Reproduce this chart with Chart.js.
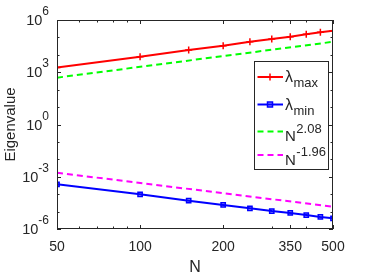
<!DOCTYPE html>
<html>
<head>
<meta charset="utf-8">
<script src="https://cdn.jsdelivr.net/npm/chart.js@4"></script>
<style>
  html, body { margin: 0; padding: 0; background: #fff; }
  #wrap { width: 368px; height: 276px; position: relative; }
</style>
</head>
<body>
<div id="wrap"><canvas id="myChart"></canvas></div>
<script>
// values
const N = [50, 100, 150, 200, 250, 300, 350, 400, 450, 500];
const lambdaMax = [1900, 7800, 19000, 33000, 56000, 81000, 110000, 150000, 195000, 240000];
const lambdaMin = [3.7e-4, 9.8e-5, 4.2e-5, 2.4e-5, 1.55e-5, 1.07e-5, 8.3e-6, 6.3e-6, 4.9e-6, 4.1e-6];
const fitN = [50, 500];
const fitMax = [490, 56000];   // N^2.08
const fitMin = [1.7e-3, 1.9e-5]; // N^-1.96

const xTickLabels = [50, 100, 200, 350, 500];
const xMinorTicks = [60, 70, 80, 90, 300, 400];
const yTickExps = [-6, -3, 0, 3, 6];
const yMinorExps = [-5, -4, -2, -1, 1, 2, 4, 5];

const FONT = "'Liberation Sans', Arial, Helvetica, sans-serif";
const AXIS = "#262626";

const pts = (xs, ys) => xs.map((x, i) => ({ x: x, y: ys[i] }));

// legend: [base, script, isSub, color, dashed, marker]
const legendItems = [
    ["\u03bb", "max", true, "#ff0000", false, "cross"],
    ["\u03bb", "min", true, "#0000ff", false, "rect"],
    ["N", "2.08", false, "#00ff00", true, null],
    ["N", "-1.96", false, "#ff00ff", true, null]
];

function drawMarker(ctx, kind, x, y, color) {
    ctx.save();
    ctx.strokeStyle = color;
    ctx.lineWidth = 1.5;
    if (kind === "cross") {
        ctx.beginPath();
        ctx.moveTo(x - 3.5, y); ctx.lineTo(x + 3.5, y);
        ctx.moveTo(x, y - 3.5); ctx.lineTo(x, y + 3.5);
        ctx.stroke();
    } else if (kind === "rect") {
        ctx.fillStyle = "rgba(0,0,255,0.35)";
        ctx.fillRect(x - 2.5, y - 2.5, 5, 5);
        ctx.strokeRect(x - 2.5, y - 2.5, 5, 5);
    }
    ctx.restore();
}

const matlabAxes = {
    id: "matlabAxes",
    afterDatasetsDraw(chart) {
        const ctx = chart.ctx;
        const a = chart.chartArea;
        const xs = chart.scales.x, ys = chart.scales.y;
        ctx.save();
        ctx.strokeStyle = AXIS;
        ctx.lineWidth = 1;
        ctx.strokeRect(a.left + 0.5, a.top + 0.5, a.right - a.left - 1, a.bottom - a.top - 1);

        // x ticks (inward, bottom and top)
        ctx.beginPath();
        xTickLabels.concat(xMinorTicks).forEach(v => {
            const len = xTickLabels.includes(v) ? 4 : 2.5;
            const px = Math.round(xs.getPixelForValue(v)) + 0.5;
            ctx.moveTo(px, a.bottom); ctx.lineTo(px, a.bottom - len);
            ctx.moveTo(px, a.top); ctx.lineTo(px, a.top + len);
        });
        // y ticks (inward, left and right)
        yTickExps.concat(yMinorExps).forEach(e => {
            const len = yTickExps.includes(e) ? 4 : 2.5;
            const py = Math.round(ys.getPixelForValue(Math.pow(10, e))) + 0.5;
            ctx.moveTo(a.left, py); ctx.lineTo(a.left + len, py);
            ctx.moveTo(a.right, py); ctx.lineTo(a.right - len, py);
        });
        ctx.stroke();

        ctx.fillStyle = AXIS;
        // x tick labels
        ctx.font = "14px " + FONT;
        ctx.textAlign = "center";
        ctx.textBaseline = "alphabetic";
        xTickLabels.forEach(v => {
            ctx.fillText(String(v), xs.getPixelForValue(v), a.bottom + 22);
        });
        // y tick labels 10^e
        yTickExps.forEach(e => {
            const py = ys.getPixelForValue(Math.pow(10, e));
            const exp = String(e);
            ctx.font = "12px " + FONT;
            const we = ctx.measureText(exp).width;
            ctx.font = "14.5px " + FONT;
            const wb = ctx.measureText("10").width;
            const right = a.left - 8;
            ctx.textAlign = "left";
            ctx.fillText("10", right - we - wb, py + 5);
            ctx.font = "12px " + FONT;
            ctx.fillText(exp, right - we, py - 5);
        });

        // axis titles
        ctx.font = "16px " + FONT;
        ctx.textAlign = "center";
        ctx.fillText("N", (a.left + a.right) / 2, 271.5);
        ctx.save();
        ctx.translate(11, (a.top + a.bottom) / 2);
        ctx.rotate(-Math.PI / 2);
        ctx.font = "15px " + FONT;
        ctx.textBaseline = "middle";
        ctx.fillText("Eigenvalue", 0, 0);
        ctx.restore();

        // legend
        const bx = 254.5, by = 61.5, bw = 74, bh = 108;
        ctx.fillStyle = "#fff";
        ctx.fillRect(bx, by, bw, bh);
        ctx.strokeStyle = AXIS;
        ctx.strokeRect(bx, by, bw, bh);
        const rowY = [77, 104.5, 131.5, 155];
        legendItems.forEach((it, i) => {
            const y = rowY[i];
            ctx.save();
            ctx.strokeStyle = it[3];
            ctx.lineWidth = 2;
            if (it[4]) ctx.setLineDash([6, 4]);
            ctx.beginPath();
            ctx.moveTo(257.5, y); ctx.lineTo(283, y);
            ctx.stroke();
            ctx.restore();
            if (it[5]) drawMarker(ctx, it[5], 270, y, it[3]);
            ctx.fillStyle = AXIS;
            ctx.textAlign = "left";
            ctx.textBaseline = "alphabetic";
            if (it[2]) {
                ctx.font = "16px " + FONT;
                ctx.fillText(it[0], 285, y + 5);
                const w = ctx.measureText(it[0]).width;
                ctx.font = "13px " + FONT;
                ctx.fillText(it[1], 285 + w + 0.5, y + 10);
            } else {
                ctx.font = "15px " + FONT;
                ctx.fillText(it[0], 285, y + 9.5);
                const w = ctx.measureText(it[0]).width;
                ctx.font = "13px " + FONT;
                ctx.fillText(it[1], 285 + w + 0.5, y + 1);
            }
        });
        ctx.restore();
    }
};

new Chart(document.getElementById("myChart").getContext("2d"), {
    type: "line",
    data: {
        datasets: [
            {
                label: "lambda max",
                data: pts(N, lambdaMax),
                borderColor: "#ff0000",
                borderWidth: 2,
                pointStyle: "cross",
                pointRadius: 3.5,
                pointBorderWidth: 1.5,
                pointBorderColor: "#ff0000"
            },
            {
                label: "lambda min",
                data: pts(N, lambdaMin),
                borderColor: "#0000ff",
                borderWidth: 2,
                pointStyle: "rect",
                pointRadius: 3,
                pointBorderWidth: 1.5,
                pointBorderColor: "#0000ff",
                pointBackgroundColor: "rgba(0,0,255,0.35)"
            },
            {
                label: "N^2.08",
                data: pts(fitN, fitMax),
                borderColor: "#00ff00",
                borderWidth: 2,
                borderDash: [6, 4],
                pointRadius: 0
            },
            {
                label: "N^-1.96",
                data: pts(fitN, fitMin),
                borderColor: "#ff00ff",
                borderWidth: 2,
                borderDash: [6, 4],
                pointRadius: 0
            }
        ]
    },
    options: {
        responsive: true,
        maintainAspectRatio: false,
        animation: false,
        layout: { padding: { left: 57, right: 35, top: 20, bottom: 47 } },
        plugins: { legend: { display: false }, tooltip: { enabled: false } },
        scales: {
            x: { type: "logarithmic", min: 50, max: 500, display: false },
            y: { type: "logarithmic", min: 1e-6, max: 1e6, display: false }
        }
    },
    plugins: [matlabAxes]
});
</script>
</body>
</html>
